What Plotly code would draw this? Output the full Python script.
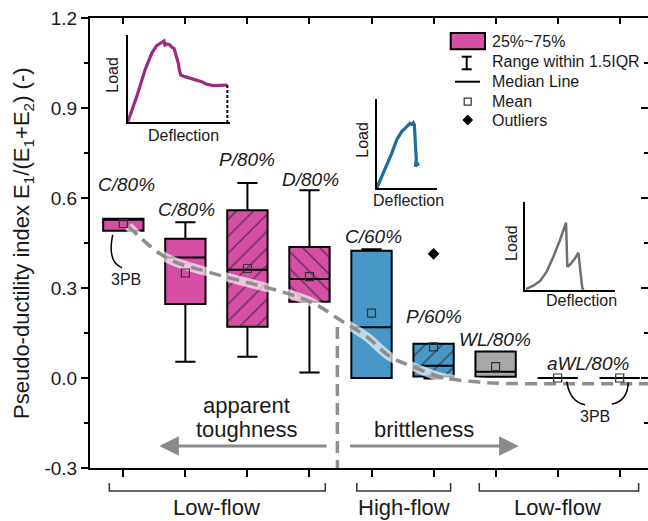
import plotly.graph_objects as go

# ---------------- data ----------------
positions = [1, 2, 3, 4, 5, 6, 7, 8, 9]
q1 = [0.491, 0.247, 0.171, 0.254, 0.000, 0.005, 0.004, 0.000, 0.000]
median = [0.531, 0.402, 0.361, 0.330, 0.169, 0.041, 0.021, 0.000, 0.000]
q3 = [0.531, 0.464, 0.559, 0.437, 0.424, 0.114, 0.088, 0.000, 0.000]
lower_fence = [0.491, 0.054, 0.071, 0.018, 0.000, -0.002, 0.004, 0.000, 0.000]
upper_fence = [0.531, 0.519, 0.650, 0.626, 0.429, 0.114, 0.088, 0.000, 0.000]
means = [0.515, 0.350, 0.365, 0.338, 0.216, 0.104, 0.038, 0.000, 0.000]
hatch = ["", "", "/", "\\", "", "/", "", "", ""]
group = ["pink", "pink", "pink", "pink", "blue", "blue", "gray", "gray", "gray"]

outlier_x = [6]
outlier_y = [0.414]

# group labels above the boxes
label_text = ["C/80%", "C/80%", "P/80%", "D/80%", "C/60%", "P/60%", "WL/80%", "aWL/80%"]
label_x = [1.05, 2.02, 3.0, 4.01, 5.03, 6.0, 6.99, 8.49]
label_y = [0.644, 0.563, 0.728, 0.661, 0.472, 0.205, 0.129, 0.049]

# trend of the index across the groups
trend_x = [1.08, 1.70, 2.34, 2.93, 3.55, 4.06, 4.49, 4.92, 5.30, 5.67, 6.10, 6.64, 7.18, 8.0, 9.46]
trend_y = [0.506, 0.400, 0.355, 0.322, 0.288, 0.250, 0.194, 0.138, 0.071, 0.038, 0.004, -0.012, -0.018, -0.019, -0.019]
boundary_x = [4.45, 4.45]
boundary_y = [0.17, -0.30]

# load-deflection sketches (normalised)
ld1_x = [0, 0.088, 0.169, 0.235, 0.283, 0.332, 0.355, 0.365, 0.388, 0.414, 0.430, 0.453, 0.463, 0.472,
         0.485, 0.495, 0.505, 0.518, 0.560, 0.609, 0.674, 0.723, 0.765, 0.837, 0.902, 0.974]
ld1_y = [0, 0.294, 0.599, 0.790, 0.878, 0.916, 0.931, 0.885, 0.897, 0.885, 0.859, 0.847, 0.809, 0.752,
         0.714, 0.676, 0.599, 0.542, 0.523, 0.504, 0.485, 0.466, 0.439, 0.420, 0.424, 0.427]
ld1_tail_x = [0.974, 0.974]
ld1_tail_y = [0.427, 0.0]
ld2_x = [0, 0.138, 0.249, 0.331, 0.414, 0.470, 0.525, 0.552, 0.580, 0.608, 0.624, 0.635, 0.646, 0.657,
         0.641, 0.669, 0.691]
ld2_y = [0, 0.206, 0.393, 0.543, 0.637, 0.674, 0.712, 0.730, 0.719, 0.738, 0.715, 0.618, 0.468, 0.318,
         0.243, 0.288, 0.251]
ld3_x = [0.011, 0.093, 0.167, 0.241, 0.315, 0.389, 0.456, 0.470, 0.507, 0.556, 0.593, 0.604, 0.622,
         0.637, 0.656]
ld3_y = [0.011, 0.049, 0.102, 0.208, 0.377, 0.566, 0.762, 0.264, 0.294, 0.358, 0.423, 0.321, 0.151,
         0.019, 0.011]

y_ticks = [-0.3, 0.0, 0.3, 0.6, 0.9, 1.2]
y_minor = [-0.15, 0.15, 0.45, 0.75, 1.05]

# ---------------- styling ----------------
COLORS = {"pink": "#D54FA5", "blue": "#4898C7", "gray": "#A8A8A8"}
FONT = "Arial, Liberation Sans, sans-serif"
TXT = "#1a1a1a"
BOX_W = 0.65
X_RANGE = [0.463, 9.456]
Y_RANGE = [-0.3, 1.2]

# plot area in pixels (for placing decorations in paper units)
PL, PR, PT, PB = 90, 648, 18, 468


def px(xp):
    return (xp - PL) / (PR - PL)


def py(yp):
    return (PB - yp) / (PB - PT)


fig = go.Figure()

# hatched fills underneath boxes
for i, h in enumerate(hatch):
    if h:
        fig.add_trace(go.Bar(
            x=[positions[i]], y=[q3[i] - q1[i]], base=[q1[i]], width=BOX_W,
            marker=dict(color=COLORS[group[i]], line=dict(width=0),
                        pattern=dict(shape=h, fillmode="replace", bgcolor=COLORS[group[i]],
                                     fgcolor="#3a2a35", size=12, solidity=0.09)),
            showlegend=False, hoverinfo="skip"))

# box plots from summary statistics
for i, p in enumerate(positions):
    fill = "rgba(0,0,0,0)" if hatch[i] else COLORS[group[i]]
    fig.add_trace(go.Box(
        x=[p], q1=[q1[i]], median=[median[i]], q3=[q3[i]],
        lowerfence=[lower_fence[i]], upperfence=[upper_fence[i]],
        width=BOX_W, whiskerwidth=0.5, fillcolor=fill,
        line=dict(color="black", width=2), boxpoints=False,
        showlegend=False, hoverinfo="skip"))

# trend curve with light halo
fig.add_trace(go.Scatter(x=trend_x, y=trend_y, mode="lines",
                         line=dict(color="rgba(255,255,255,0.65)", width=9, shape="spline", smoothing=1.0),
                         showlegend=False, hoverinfo="skip"))
fig.add_trace(go.Scatter(x=trend_x, y=trend_y, mode="lines",
                         line=dict(color="#8e8e8e", width=3.5, dash="12px,7px", shape="spline", smoothing=1.0),
                         showlegend=False, hoverinfo="skip"))
fig.add_trace(go.Scatter(x=boundary_x, y=boundary_y, mode="lines",
                         line=dict(color="#8e8e8e", width=3.5, dash="12px,7px"),
                         showlegend=False, hoverinfo="skip"))

# means and outliers
fig.add_trace(go.Scatter(x=positions, y=means, mode="markers",
                         marker=dict(symbol="square-open", size=8, color="#333333", line=dict(width=1.2)),
                         showlegend=False, hoverinfo="skip"))
fig.add_trace(go.Scatter(x=outlier_x, y=outlier_y, mode="markers",
                         marker=dict(symbol="diamond", size=9, color="black"),
                         showlegend=False, hoverinfo="skip"))

# helper trace to realise the mirrored (inner) tick axes
fig.add_trace(go.Scatter(x=[1], y=[0], xaxis="x2", yaxis="y2", mode="markers",
                         marker=dict(opacity=0), showlegend=False, hoverinfo="skip"))

# load-deflection sketches
fig.add_trace(go.Scatter(x=ld1_x, y=ld1_y, xaxis="x3", yaxis="y3", mode="lines",
                         line=dict(color="#9C2A86", width=3.2), showlegend=False, hoverinfo="skip"))
fig.add_trace(go.Scatter(x=ld1_tail_x, y=ld1_tail_y, xaxis="x3", yaxis="y3", mode="lines",
                         line=dict(color="black", width=2, dash="3px,2px"), showlegend=False, hoverinfo="skip"))
fig.add_trace(go.Scatter(x=ld2_x, y=ld2_y, xaxis="x4", yaxis="y4", mode="lines",
                         line=dict(color="#1E6E98", width=3.2), showlegend=False, hoverinfo="skip"))
fig.add_trace(go.Scatter(x=ld3_x, y=ld3_y, xaxis="x5", yaxis="y5", mode="lines",
                         line=dict(color="#707070", width=2.5), showlegend=False, hoverinfo="skip"))

inset_axis = dict(showline=True, linecolor="black", linewidth=1.5, showticklabels=False,
                  ticks="", showgrid=False, zeroline=False, range=[0, 1], fixedrange=True)

fig.update_layout(
    width=648, height=521,
    margin=dict(l=PL, r=0, t=PT, b=521 - PB),
    paper_bgcolor="white", plot_bgcolor="white",
    barmode="overlay", boxmode="overlay",
    font=dict(family=FONT, color=TXT),
    showlegend=False,
    xaxis=dict(range=X_RANGE, showgrid=False, zeroline=False, showline=True, linecolor="black",
               linewidth=2, mirror=True, tickmode="array", tickvals=positions, showticklabels=False,
               ticks="outside", ticklen=7, tickwidth=2, tickcolor="black"),
    yaxis=dict(range=Y_RANGE, showgrid=False, zeroline=False, showline=True, linecolor="black",
               linewidth=2, tickmode="array", tickvals=y_ticks, ticktext=[f"{v:.1f}" for v in y_ticks],
               ticks="outside", ticklen=7, tickwidth=2, tickcolor="black",
               tickfont=dict(size=19, color=TXT),
               minor=dict(ticks="outside", ticklen=4, tickwidth=2, tickcolor="black",
                          tickmode="array", tickvals=y_minor)),
    xaxis2=dict(overlaying="x", side="top", anchor="y2", range=X_RANGE, showgrid=False, zeroline=False,
                showline=False, tickmode="array", tickvals=positions, showticklabels=False,
                ticks="inside", ticklen=6, tickwidth=2, tickcolor="black"),
    yaxis2=dict(overlaying="y", side="right", anchor="x2", range=Y_RANGE, showgrid=False, zeroline=False,
                showline=False, tickmode="array", tickvals=y_ticks, showticklabels=False,
                ticks="inside", ticklen=7, tickwidth=2, tickcolor="black",
                minor=dict(ticks="inside", ticklen=4, tickwidth=2, tickcolor="black",
                           tickmode="array", tickvals=y_minor)),
    xaxis3=dict(inset_axis, domain=[px(127.7), px(230)], anchor="y3"),
    yaxis3=dict(inset_axis, domain=[py(122.3), py(35)], anchor="x3"),
    xaxis4=dict(inset_axis, domain=[px(376.7), px(437)], anchor="y4"),
    yaxis4=dict(inset_axis, domain=[py(188.3), py(99.3)], anchor="x4"),
    xaxis5=dict(inset_axis, domain=[px(525), px(615)], anchor="y5"),
    yaxis5=dict(inset_axis, domain=[py(290), py(201.7)], anchor="x5"),
)

ann = []


def note(text, x, y, xref="x", yref="y", size=19, xanchor="center", angle=0):
    ann.append(dict(x=x, y=y, xref=xref, yref=yref, text=text, showarrow=False,
                    xanchor=xanchor, yanchor="middle", textangle=angle,
                    font=dict(size=size, color=TXT)))


# group labels
for t, x, y in zip(label_text, label_x, label_y):
    note(f"<i>{t}</i>", x, y)
# 3PB notes
note("3PB", 1.05, 0.327, size=16)
note("3PB", 8.60, -0.129, size=16)
# regime texts
note("apparent", 2.99, -0.090, size=22)
note("toughness", 2.99, -0.171, size=22)
note("brittleness", 5.85, -0.171, size=22)
# regime arrows
ann.append(dict(x=1.58, y=-0.227, ax=4.30, ay=-0.227, xref="x", yref="y", axref="x", ayref="y",
                text="", showarrow=True, arrowhead=2, arrowsize=1.3, arrowwidth=3, arrowcolor="#8a8a8a"))
ann.append(dict(x=7.37, y=-0.227, ax=4.63, ay=-0.227, xref="x", yref="y", axref="x", ayref="y",
                text="", showarrow=True, arrowhead=2, arrowsize=1.3, arrowwidth=3, arrowcolor="#8a8a8a"))
# flow regime bracket labels
for t, x in [("Low-flow", 2.50), ("High-flow", 5.52), ("Low-flow", 8.00)]:
    note(t, x, py(508), yref="paper", size=22)
# y axis title
note("Pseudo-ductility index E<sub>1</sub>/(E<sub>1</sub>+E<sub>2</sub>) (-)",
     px(23), py(243), xref="paper", yref="paper", size=22, angle=-90)
# inset axis names
for t, x, y, ang in [("Load", 111.7, 75, -90), ("Deflection", 183, 135, 0),
                     ("Load", 361.7, 140, -90), ("Deflection", 408, 200, 0),
                     ("Load", 511.7, 243.3, -90), ("Deflection", 581.7, 300, 0)]:
    note(t, px(x), py(y), xref="paper", yref="paper", size=16, angle=ang)
# legend texts
for t, y in [("25%~75%", 41.7), ("Range within 1.5IQR", 61.7), ("Median Line", 81.7),
             ("Mean", 101.7), ("Outliers", 120)]:
    note(t, px(490), py(y), xref="paper", yref="paper", size=16, xanchor="left")

shapes = []
# flow regime brackets
for x0, x1 in [(0.774, 4.255), (4.763, 6.275), (6.737, 9.305)]:
    shapes.append(dict(type="path", xref="x", yref="paper",
                       path=f"M {x0},{py(483)} L {x0},{py(491)} L {x1},{py(491)} L {x1},{py(483)}",
                       line=dict(color="#333333", width=1.5)))
# 3PB connectors
for path in ["M 0.829,0.4775 Q 0.737,0.387 0.979,0.367",
             "M 8.146,-0.012 Q 8.199,-0.080 8.441,-0.089",
             "M 9.139,-0.0153 Q 9.117,-0.0795 8.871,-0.0865"]:
    shapes.append(dict(type="path", xref="x", yref="y", path=path, line=dict(color="black", width=1.5)))
# legend glyphs
shapes.append(dict(type="rect", xref="paper", yref="paper", x0=px(450.7), x1=px(485), y0=py(49.3), y1=py(33),
                   fillcolor=COLORS["pink"], line=dict(color="black", width=2)))
shapes.append(dict(type="line", xref="paper", yref="paper", x0=px(466.7), x1=px(466.7), y0=py(56.7), y1=py(69.3),
                   line=dict(color="black", width=2)))
for yy in (56.7, 69.3):
    shapes.append(dict(type="line", xref="paper", yref="paper", x0=px(461.7), x1=px(471.7), y0=py(yy), y1=py(yy),
                       line=dict(color="black", width=2)))
shapes.append(dict(type="line", xref="paper", yref="paper", x0=px(455), x1=px(480), y0=py(81.7), y1=py(81.7),
                   line=dict(color="black", width=2)))
shapes.append(dict(type="rect", xref="paper", yref="paper", x0=px(464.2), x1=px(471.2), y0=py(105.2), y1=py(98.2),
                   fillcolor="white", line=dict(color="#333333", width=1.2)))
shapes.append(dict(type="path", xref="paper", yref="paper",
                   path=f"M {px(467.7)},{py(115)} L {px(472.5)},{py(120)} L {px(467.7)},{py(125)} "
                        f"L {px(462.9)},{py(120)} Z",
                   fillcolor="black", line=dict(color="black", width=1)))

fig.update_layout(annotations=ann, shapes=shapes)

fig.write_html("out.html")
